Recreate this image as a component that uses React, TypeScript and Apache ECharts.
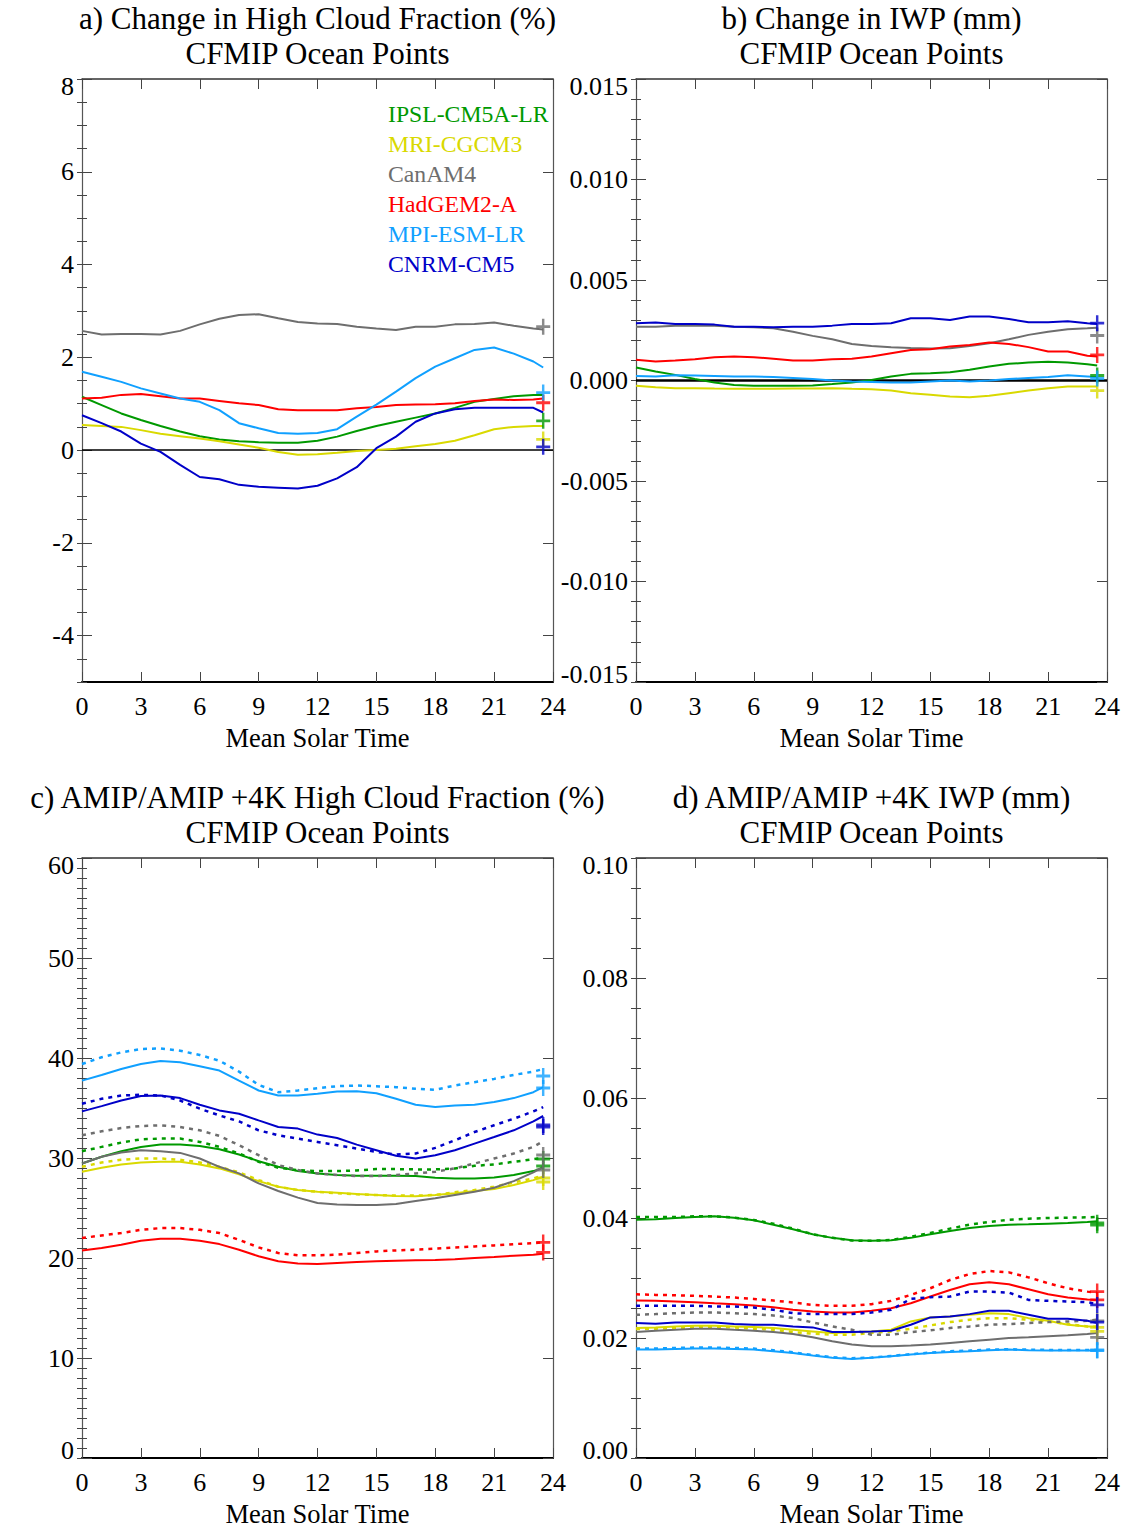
import React, { useEffect, useRef } from "react";
import * as echarts from "echarts";

// ---------------- data ----------------
const HOURS = [0, 1, 2, 3, 4, 5, 6, 7, 8, 9, 10, 11, 12, 13, 14, 15, 16, 17, 18, 19, 20, 21, 22, 23, 23.5];
const MODELS = ["IPSL-CM5A-LR", "MRI-CGCM3", "CanAM4", "HadGEM2-A", "MPI-ESM-LR", "CNRM-CM5"];
const COLORS = ["#009900", "#d9d900", "#6e6e6e", "#ff0000", "#10a0ff", "#0000c8"];

const X_TICKS_MAX = 24;
const A_YTICKS = [-4, -2, 0, 2, 4, 6, 8];
const B_YTICKS = [-0.015, -0.01, -0.005, 0, 0.005, 0.01, 0.015];
const C_YTICKS = [0, 10, 20, 30, 40, 50, 60];
const D_YTICKS = [0, 0.02, 0.04, 0.06, 0.08, 0.1];

// a) change in high cloud fraction (%)
const aIPSL = [1.15, 0.97, 0.79, 0.65, 0.52, 0.40, 0.30, 0.23, 0.19, 0.17, 0.16, 0.16, 0.20, 0.29, 0.41, 0.52, 0.61, 0.70, 0.79, 0.91, 1.04, 1.10, 1.16, 1.19, 1.19];
const aMRI = [0.54, 0.52, 0.50, 0.43, 0.35, 0.30, 0.25, 0.19, 0.12, 0.05, -0.04, -0.10, -0.09, -0.06, -0.02, 0.0, 0.03, 0.08, 0.13, 0.20, 0.32, 0.45, 0.50, 0.52, 0.52];
const aCanAM4 = [2.57, 2.49, 2.50, 2.50, 2.49, 2.57, 2.71, 2.83, 2.91, 2.93, 2.84, 2.76, 2.73, 2.72, 2.66, 2.62, 2.59, 2.66, 2.66, 2.71, 2.72, 2.75, 2.68, 2.62, 2.60];
const aHadGEM = [1.11, 1.13, 1.19, 1.21, 1.16, 1.11, 1.11, 1.06, 1.01, 0.97, 0.88, 0.86, 0.86, 0.86, 0.90, 0.93, 0.97, 0.98, 0.99, 1.01, 1.06, 1.09, 1.08, 1.09, 1.11];
const aMPI = [1.69, 1.58, 1.47, 1.33, 1.22, 1.11, 1.04, 0.86, 0.58, 0.47, 0.37, 0.35, 0.37, 0.45, 0.72, 0.98, 1.26, 1.55, 1.80, 1.98, 2.16, 2.21, 2.08, 1.91, 1.78];
const aCNRM = [0.75, 0.58, 0.40, 0.14, -0.04, -0.32, -0.58, -0.63, -0.75, -0.79, -0.81, -0.83, -0.77, -0.61, -0.37, 0.04, 0.29, 0.61, 0.79, 0.88, 0.91, 0.91, 0.91, 0.91, 0.81];
const aPLUS = [0.63, 0.23, 2.66, 1.02, 1.24, 0.07];

// b) change in IWP (mm)
const bIPSL = [0.00065, 0.00045, 0.00028, 0.00007, -0.0001, -0.00022, -0.00026, -0.00026, -0.00026, -0.00025, -0.00018, -0.0001, 0.00003, 0.0002, 0.00033, 0.00036, 0.00041, 0.00053, 0.0007, 0.00083, 0.00089, 0.00093, 0.00089, 0.00081, 0.00075];
const bMRI = [-0.00026, -0.00033, -0.00038, -0.00038, -0.0004, -0.00041, -0.00041, -0.00041, -0.0004, -0.0004, -0.00038, -0.00041, -0.00043, -0.0005, -0.00063, -0.00071, -0.00079, -0.00083, -0.00076, -0.00063, -0.0005, -0.00038, -0.0003, -0.0003, -0.0003];
const bCanAM4 = [0.00268, 0.00268, 0.00272, 0.00272, 0.00272, 0.00268, 0.00265, 0.0026, 0.00243, 0.00222, 0.00205, 0.00182, 0.00172, 0.00166, 0.00162, 0.00159, 0.0016, 0.00172, 0.00185, 0.00205, 0.00227, 0.00243, 0.00255, 0.0026, 0.00263];
const bHadGEM = [0.00103, 0.00094, 0.00099, 0.00106, 0.00116, 0.00119, 0.00116, 0.00108, 0.00099, 0.00099, 0.00106, 0.00108, 0.00119, 0.00136, 0.00152, 0.00156, 0.00169, 0.00177, 0.00189, 0.00182, 0.00166, 0.00144, 0.00144, 0.00123, 0.00119];
const bMPI = [0.00023, 0.0002, 0.00026, 0.00025, 0.00023, 0.0002, 0.0002, 0.00017, 0.00012, 0.00007, 0.0, -0.00005, -0.00007, -0.0001, -0.0001, -0.00005, 0.0, -0.00005, 0.0, 0.00007, 0.00012, 0.00017, 0.00026, 0.0002, 0.00017];
const bCNRM = [0.00285, 0.00288, 0.00281, 0.00281, 0.00278, 0.00268, 0.00268, 0.00265, 0.00268, 0.00268, 0.00273, 0.00281, 0.00281, 0.00285, 0.0031, 0.0031, 0.00301, 0.00318, 0.00318, 0.00306, 0.0029, 0.0029, 0.00295, 0.00285, 0.00281];
const bPLUS = [0.00025, -0.0005, 0.00224, 0.00127, 0.0001, 0.00285];

// c) AMIP (solid) / AMIP +4K (dotted) high cloud fraction (%)
const cIPSL = [29.45, 30.12, 30.68, 31.11, 31.34, 31.34, 31.21, 30.88, 30.35, 29.68, 29.12, 28.69, 28.46, 28.29, 28.22, 28.22, 28.22, 28.19, 28.03, 27.96, 27.96, 28.06, 28.29, 28.69, 29.02];
const cIPSL4K = [30.68, 31.11, 31.54, 31.87, 31.94, 31.94, 31.61, 31.11, 30.45, 29.62, 29.02, 28.79, 28.69, 28.69, 28.76, 28.89, 28.89, 28.86, 28.86, 28.96, 29.22, 29.35, 29.62, 29.88, 30.02];
const cMRI = [28.62, 29.02, 29.35, 29.55, 29.62, 29.62, 29.35, 28.96, 28.36, 27.69, 27.13, 26.8, 26.63, 26.53, 26.4, 26.3, 26.2, 26.17, 26.3, 26.47, 26.7, 26.9, 27.3, 27.79, 28.13];
const cMRI4K = [29.12, 29.55, 29.82, 29.95, 29.95, 29.82, 29.55, 29.12, 28.56, 27.79, 27.13, 26.8, 26.63, 26.47, 26.37, 26.3, 26.24, 26.24, 26.3, 26.57, 26.8, 27.13, 27.56, 27.96, 28.29];
const cCan = [29.45, 30.12, 30.55, 30.78, 30.68, 30.51, 29.95, 29.12, 28.46, 27.46, 26.7, 26.04, 25.5, 25.35, 25.3, 25.3, 25.4, 25.7, 25.97, 26.3, 26.63, 27.03, 27.69, 28.56, 29.12];
const cCan4K = [32.27, 32.67, 33.0, 33.2, 33.27, 33.1, 32.77, 32.21, 31.28, 30.28, 29.29, 28.79, 28.46, 28.29, 28.19, 28.19, 28.29, 28.46, 28.62, 28.96, 29.45, 29.95, 30.45, 31.11, 31.67];
const cHad = [20.76, 21.0, 21.33, 21.72, 21.92, 21.92, 21.72, 21.39, 20.83, 20.17, 19.67, 19.44, 19.4, 19.5, 19.6, 19.67, 19.73, 19.77, 19.8, 19.87, 20.0, 20.1, 20.23, 20.33, 20.43];
const cHad4K = [21.99, 22.26, 22.49, 22.82, 22.99, 22.99, 22.82, 22.49, 21.82, 21.06, 20.5, 20.27, 20.27, 20.33, 20.5, 20.66, 20.76, 20.83, 20.93, 21.06, 21.16, 21.26, 21.39, 21.49, 21.56];
const cMPI = [37.74, 38.3, 38.9, 39.4, 39.7, 39.57, 39.17, 38.74, 37.74, 36.75, 36.25, 36.25, 36.42, 36.65, 36.68, 36.48, 35.92, 35.32, 35.09, 35.26, 35.32, 35.59, 35.99, 36.58, 37.08];
const cMPI4K = [39.4, 40.07, 40.56, 40.9, 40.96, 40.73, 40.3, 39.73, 38.64, 37.31, 36.58, 36.75, 36.98, 37.18, 37.25, 37.18, 37.08, 36.92, 36.82, 37.25, 37.58, 37.91, 38.31, 38.64, 38.9];
const cCNRM = [34.66, 35.19, 35.75, 36.19, 36.25, 35.99, 35.32, 34.76, 34.43, 33.76, 33.1, 32.94, 32.34, 32.0, 31.34, 30.78, 30.22, 29.95, 30.28, 30.78, 31.44, 32.1, 32.77, 33.66, 34.2];
const cCNRM4K = [35.42, 35.92, 36.25, 36.32, 36.25, 35.75, 34.93, 34.26, 33.66, 32.77, 32.27, 31.94, 31.61, 31.28, 30.95, 30.61, 30.35, 30.45, 31.01, 31.77, 32.6, 33.27, 33.93, 34.66, 35.09];
const cPLUS = [29.2, 27.6, 28.8, 20.56, 37.0, 33.1];
const cPLUS4K = [29.9, 28.0, 30.3, 21.56, 38.2, 33.3];

// d) AMIP (solid) / AMIP +4K (dotted) IWP (mm)
const dIPSL = [0.03972, 0.03978, 0.04, 0.04017, 0.04028, 0.04006, 0.03961, 0.03889, 0.03812, 0.03729, 0.03669, 0.0363, 0.03619, 0.0363, 0.03669, 0.03729, 0.03785, 0.03834, 0.03867, 0.03889, 0.03895, 0.03906, 0.03917, 0.03934, 0.03945];
const dIPSL4K = [0.04017, 0.04017, 0.04017, 0.04028, 0.04028, 0.04006, 0.03967, 0.03906, 0.03823, 0.03729, 0.03669, 0.03624, 0.03619, 0.03635, 0.03685, 0.03751, 0.03823, 0.03889, 0.03934, 0.03972, 0.03989, 0.04, 0.04006, 0.04011, 0.04017];
const dMRI = [0.02166, 0.02177, 0.02193, 0.02204, 0.02204, 0.02193, 0.02182, 0.02166, 0.02138, 0.0211, 0.02083, 0.02094, 0.0211, 0.02138, 0.02276, 0.02343, 0.0236, 0.02387, 0.02414, 0.02398, 0.02331, 0.02287, 0.02221, 0.02193, 0.02193];
const dMRI4K = [0.02149, 0.02155, 0.02166, 0.02177, 0.02182, 0.02177, 0.02155, 0.02138, 0.021, 0.02072, 0.02055, 0.02055, 0.02083, 0.0211, 0.02155, 0.0221, 0.02265, 0.02304, 0.02331, 0.02331, 0.02304, 0.02276, 0.02232, 0.02193, 0.02182];
const dCan = [0.02099, 0.02122, 0.02138, 0.02155, 0.02155, 0.02138, 0.02122, 0.02099, 0.02066, 0.02011, 0.01945, 0.0189, 0.01862, 0.01862, 0.01873, 0.0189, 0.01917, 0.01945, 0.01972, 0.02, 0.02011, 0.02028, 0.02044, 0.02066, 0.02083];
const dCan4K = [0.02387, 0.02398, 0.02414, 0.02425, 0.02425, 0.02414, 0.02398, 0.02376, 0.02331, 0.0226, 0.02193, 0.02138, 0.02055, 0.02055, 0.02099, 0.02127, 0.02166, 0.02193, 0.02221, 0.02232, 0.02249, 0.02265, 0.02276, 0.02287, 0.02304];
const dHad = [0.02624, 0.02619, 0.02608, 0.02597, 0.0258, 0.02564, 0.02541, 0.02514, 0.0247, 0.02442, 0.02425, 0.02425, 0.02453, 0.02497, 0.0258, 0.02691, 0.02801, 0.02895, 0.02928, 0.02895, 0.02812, 0.02729, 0.02674, 0.02641, 0.02635];
const dHad4K = [0.02729, 0.02718, 0.02713, 0.02702, 0.02691, 0.02674, 0.02652, 0.02624, 0.02591, 0.02552, 0.02536, 0.02536, 0.02564, 0.02619, 0.02718, 0.02829, 0.02967, 0.03066, 0.03116, 0.03094, 0.03011, 0.02912, 0.02829, 0.02773, 0.02757];
const dMPI = [0.01807, 0.01807, 0.01818, 0.01823, 0.01823, 0.01818, 0.01807, 0.01779, 0.01751, 0.01707, 0.01669, 0.01652, 0.01669, 0.01696, 0.01724, 0.01751, 0.01768, 0.01779, 0.01796, 0.01807, 0.01796, 0.0179, 0.0179, 0.0179, 0.0179];
const dMPI4K = [0.01823, 0.01823, 0.01834, 0.0184, 0.0184, 0.01834, 0.01823, 0.01796, 0.01762, 0.01718, 0.01679, 0.01663, 0.01674, 0.01702, 0.0173, 0.01757, 0.01779, 0.0179, 0.01807, 0.01812, 0.01807, 0.01801, 0.01801, 0.01801, 0.01801];
const dCNRM = [0.02249, 0.02238, 0.0226, 0.0226, 0.0226, 0.02232, 0.02221, 0.02221, 0.02193, 0.02177, 0.02099, 0.02099, 0.0211, 0.02122, 0.02221, 0.02343, 0.0236, 0.02398, 0.02453, 0.02453, 0.02387, 0.0232, 0.0232, 0.02287, 0.02249];
const dCNRM4K = [0.02536, 0.02536, 0.02536, 0.02536, 0.02525, 0.02525, 0.02508, 0.0247, 0.02414, 0.02398, 0.02398, 0.02398, 0.02425, 0.0247, 0.02652, 0.0268, 0.02691, 0.02773, 0.02773, 0.02757, 0.02635, 0.02619, 0.02608, 0.02597, 0.02564];
const dPLUS = [0.0392, 0.0211, 0.02011, 0.02635, 0.0179, 0.02265];
const dPLUS4K = [0.0388, 0.02177, 0.02287, 0.02773, 0.018, 0.02552];

const TITLES = [
  ["a) Change in High Cloud Fraction (%)", "CFMIP Ocean Points"],
  ["b) Change in IWP (mm)", "CFMIP Ocean Points"],
  ["c) AMIP/AMIP +4K High Cloud Fraction (%)", "CFMIP Ocean Points"],
  ["d) AMIP/AMIP +4K IWP (mm)", "CFMIP Ocean Points"],
];
const X_NAME = "Mean Solar Time";

// ---------------- layout / style ----------------
const FONT = '"Liberation Serif", "Times New Roman", serif';
const LABEL_SIZE = 26;
const TITLE_SIZE = 31;
const PW = 471;
const PH = 603;
const GRIDS = [
  { left: 82, top: 79 },
  { left: 636, top: 79 },
  { left: 82, top: 858 },
  { left: 636, top: 858 },
];
const PLUS_PATH =
  "path://M0,6.6L16,6.6L16,9.4L0,9.4Z M6.6,0L9.4,0L9.4,16L6.6,16Z";

const pairs = (vals: number[]) => HOURS.map((h, i) => [h, vals[i]]);

const PANELS = [
  { yMin: -5, yMax: 8, ticks: A_YTICKS, minor: 0.5, fmt: (v: number) => String(Math.round(v)), solid: [aIPSL, aMRI, aCanAM4, aHadGEM, aMPI, aCNRM], dotted: null as any, plus: aPLUS, plus4k: null as any, zero: 1.5 },
  { yMin: -0.015, yMax: 0.015, ticks: B_YTICKS, minor: 0.001, fmt: (v: number) => v.toFixed(3).replace("-0.000", "0.000"), solid: [bIPSL, bMRI, bCanAM4, bHadGEM, bMPI, bCNRM], dotted: null as any, plus: bPLUS, plus4k: null as any, zero: 2.5 },
  { yMin: 0, yMax: 60, ticks: C_YTICKS, minor: 1, fmt: (v: number) => String(Math.round(v)), solid: [cIPSL, cMRI, cCan, cHad, cMPI, cCNRM], dotted: [cIPSL4K, cMRI4K, cCan4K, cHad4K, cMPI4K, cCNRM4K], plus: cPLUS, plus4k: cPLUS4K, zero: 0 },
  { yMin: 0, yMax: 0.1, ticks: D_YTICKS, minor: 0.005, fmt: (v: number) => v.toFixed(2), solid: [dIPSL, dMRI, dCan, dHad, dMPI, dCNRM], dotted: [dIPSL4K, dMRI4K, dCan4K, dHad4K, dMPI4K, dCNRM4K], plus: dPLUS, plus4k: dPLUS4K, zero: 0 },
];

function buildOption() {
  const grid: any[] = [];
  const xAxis: any[] = [];
  const yAxis: any[] = [];
  const series: any[] = [];
  const graphic: any[] = [];

  PANELS.forEach((p, k) => {
    const g = GRIDS[k];
    const span = p.yMax - p.yMin;
    grid.push({ left: g.left, top: g.top, width: PW, height: PH, containLabel: false });
    // bottom x axis
    xAxis.push({
      type: "value", gridIndex: k, position: "bottom", min: 0, max: X_TICKS_MAX, interval: 3,
      name: X_NAME, nameLocation: "middle", nameGap: 42,
      nameTextStyle: { fontFamily: FONT, fontSize: 26.5, color: "#000" },
      axisLine: { show: true, onZero: false, lineStyle: { color: "#000", width: 2 } },
      axisTick: { show: true, inside: true, length: 10, lineStyle: { color: "#444", width: 1 } },
      axisLabel: { show: true, margin: 11, fontFamily: FONT, fontSize: LABEL_SIZE, color: "#000" },
      splitLine: { show: false },
    });
    // top x axis
    xAxis.push({
      type: "value", gridIndex: k, position: "top", min: 0, max: X_TICKS_MAX, interval: 3,
      axisLine: { show: true, onZero: false, lineStyle: { color: "#333", width: 1.5 } },
      axisTick: { show: true, inside: true, length: 10, lineStyle: { color: "#444", width: 1 } },
      axisLabel: { show: false },
      splitLine: { show: false },
    });
    const labelFmt = (v: number) => {
      const s = p.fmt(v);
      if (Math.abs(v - p.yMax) < span * 1e-6) return `{top|${s}}`;
      if (Math.abs(v - p.yMin) < span * 1e-6) return `{bot|${s}}`;
      return s;
    };
    const yMain = (pos: string, labels: boolean) => ({
      type: "value", gridIndex: k, position: pos, min: p.yMin, max: p.yMax,
      axisLine: { show: true, onZero: false, lineStyle: { color: "#555", width: 1.2 } },
      axisTick: { show: true, inside: true, length: 10, customValues: p.ticks, lineStyle: { color: "#444", width: 1 } },
      axisLabel: {
        show: labels, customValues: p.ticks, formatter: labelFmt, margin: 8,
        fontFamily: FONT, fontSize: LABEL_SIZE, color: "#000",
        rich: {
          top: { fontFamily: FONT, fontSize: LABEL_SIZE, color: "#000", padding: [14, 0, 0, 0] },
          bot: { fontFamily: FONT, fontSize: LABEL_SIZE, color: "#000", padding: [0, 0, 16, 0] },
        },
      },
      splitLine: { show: false },
    });
    const yMinor = (pos: string) => ({
      type: "value", gridIndex: k, position: pos, min: p.yMin, max: p.yMax, interval: p.minor,
      axisLine: { show: false },
      axisTick: { show: true, inside: true, length: 5, lineStyle: { color: "#444", width: 1 } },
      axisLabel: { show: false },
      splitLine: { show: false },
    });
    yAxis.push(yMain("left", true), yMinor("left"), yMain("right", false), yMinor("right"));

    const xi = 2 * k;
    const yi = 4 * k;
    if (p.zero) {
      series.push({
        type: "line", xAxisIndex: xi, yAxisIndex: yi, data: [[0, 0], [24, 0]], showSymbol: false,
        lineStyle: { color: "#000", width: p.zero }, silent: true, z: 1,
      });
    }
    MODELS.forEach((m, i) => {
      series.push({
        name: m, type: "line", xAxisIndex: xi, yAxisIndex: yi, data: pairs(p.solid[i]), showSymbol: false,
        lineStyle: { color: COLORS[i], width: 2 }, z: 2,
      });
      if (p.dotted) {
        series.push({
          name: m + " +4K", type: "line", xAxisIndex: xi, yAxisIndex: yi, data: pairs(p.dotted[i]), showSymbol: false,
          lineStyle: { color: COLORS[i], width: 2.5, type: [4, 5] }, z: 2,
        });
      }
      const pts: number[][] = [[23.5, p.plus[i]]];
      if (p.plus4k) pts.push([23.5, p.plus4k[i]]);
      series.push({
        type: "scatter", xAxisIndex: xi, yAxisIndex: yi, data: pts, symbol: PLUS_PATH, symbolSize: [14, 16],
        itemStyle: { color: COLORS[i] }, z: 3, silent: true,
      });
    });

    // two-line title
    const cx = g.left + PW / 2;
    const ty = k < 2 ? 18.5 : 797.5;
    TITLES[k].forEach((t, j) => {
      graphic.push({
        type: "text", x: cx, y: ty + j * 35,
        style: {
          text: t, font: `${TITLE_SIZE}px ${FONT}`, fill: "#000",
          align: "center", verticalAlign: "middle", textAlign: "center", textVerticalAlign: "middle",
        },
      });
    });
  });

  MODELS.forEach((m, i) => {
    graphic.push({
      type: "text", x: 388, y: 114 + 30 * i,
      style: {
        text: m, font: `23.7px ${FONT}`, fill: COLORS[i],
        align: "left", verticalAlign: "middle", textAlign: "left", textVerticalAlign: "middle",
      },
    });
  });

  return {
    animation: false,
    backgroundColor: "#fff",
    textStyle: { fontFamily: FONT },
    grid, xAxis, yAxis, series, graphic,
  };
}

export default function App() {
  const ref = useRef<HTMLDivElement>(null);
  useEffect(() => {
    if (!ref.current) return;
    const chart = echarts.init(ref.current, undefined, { renderer: "svg" });
    chart.setOption(buildOption() as any);
    return () => chart.dispose();
  }, []);
  return (
    <div
      ref={ref}
      style={{ position: "absolute", left: 0, top: 0, width: 1127, height: 1528, background: "#fff" }}
    />
  );
}
